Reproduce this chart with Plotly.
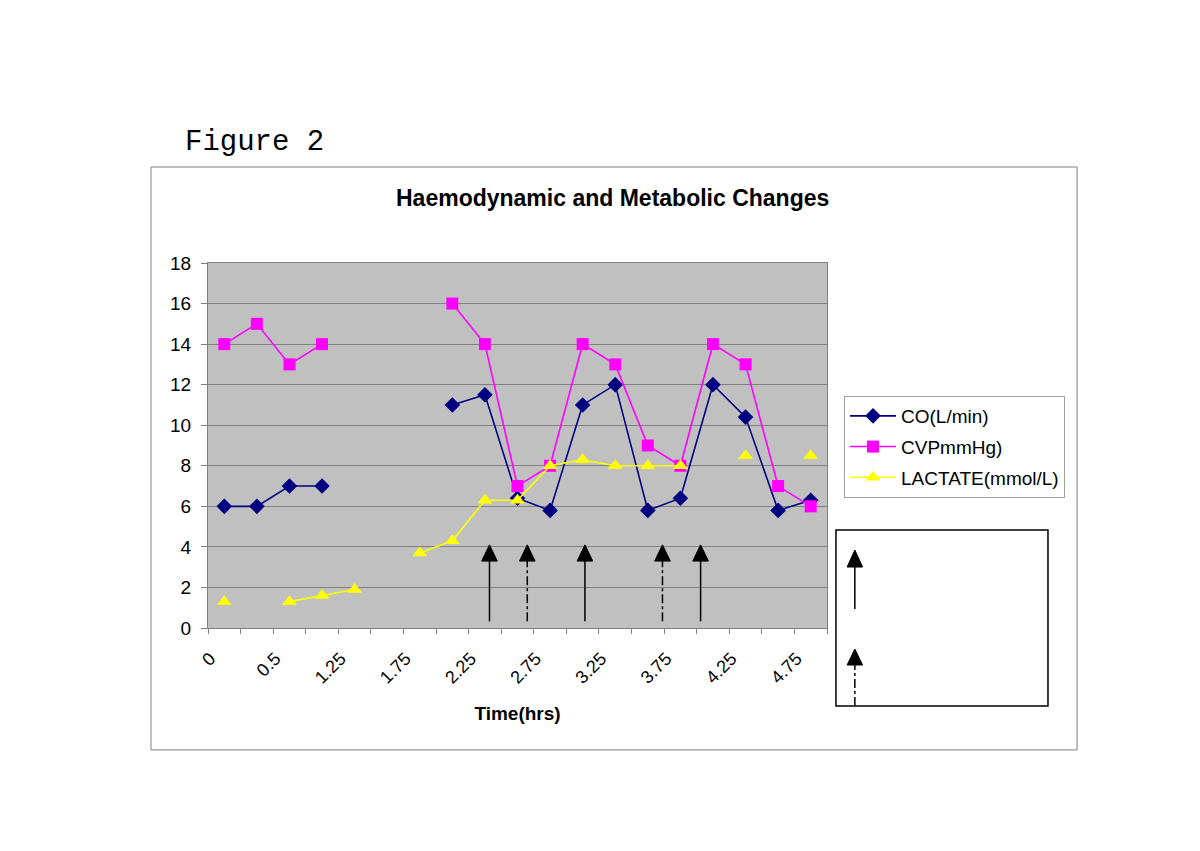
import plotly.graph_objects as go

# ---- data ----
time_labels = ["0", "0.25", "0.5", "1", "1.25", "1.5", "1.75", "2", "2.25", "2.5",
               "2.75", "3", "3.25", "3.5", "3.75", "4", "4.25", "4.5", "4.75"]
co_vals = [6, 6, 7, 7, None, None, None, 11, 11.5, 6.4, 5.8, 11, 12, 5.8, 6.4, 12, 10.4, 5.8, 6.3]
cvp_vals = [14, 15, 13, 14, None, None, None, 16, 14, 7, 8, 14, 13, 9, 8, 14, 13, 7, 6]
lactate_vals = [1.3, None, 1.3, 1.6, 1.9, None, 3.7, 4.3, 6.3, 6.3, 8, 8.3, 8, 8, 8, None, 8.5, None, 8.5]
series_names = ["CO(L/min)", "CVPmmHg)", "LACTATE(mmol/L)"]
chart_title = "Haemodynamic and Metabolic Changes"
x_title = "Time(hrs)"

# intervention arrows (category-index position, style)
arrow_pos = [8.14, 9.3, 11.07, 13.45, 14.62]
arrow_style = ["solid", "dashdot", "solid", "dashdot", "solid"]

x_idx = list(range(len(time_labels)))
FONT = "Liberation Sans, Arial, sans-serif"

fig = go.Figure()
fig.add_trace(go.Scatter(x=x_idx, y=co_vals, name=series_names[0], mode="lines+markers",
                         line=dict(color="#000080", width=1.6),
                         marker=dict(symbol="diamond", size=12, color="#000080"),
                         legendgroup="a"))
fig.add_trace(go.Scatter(x=x_idx, y=cvp_vals, name=series_names[1], mode="lines+markers",
                         line=dict(color="#FF00FF", width=1.6),
                         marker=dict(symbol="square", size=12, color="#FF00FF"),
                         legendgroup="b"))
fig.add_trace(go.Scatter(x=x_idx, y=lactate_vals, name=series_names[2], mode="lines+markers",
                         line=dict(color="#FFFF00", width=1.6),
                         marker=dict(symbol="triangle-up", size=13, color="#FFFF00"),
                         legendgroup="c"))

shapes = []
# outer chart frame
shapes.append(dict(type="rect", xref="paper", yref="paper", x0=-0.0921, x1=1.404, y0=-0.334, y1=1.263,
                   line=dict(color="#808080", width=1), layer="below"))
# arrows in plot
hw = 0.24
for xp, st in zip(arrow_pos, arrow_style):
    shapes.append(dict(type="line", xref="x", yref="y", x0=xp, x1=xp, y0=0.33, y1=3.35,
                       line=dict(color="black", width=1.5, dash=st)))
    shapes.append(dict(type="path", xref="x", yref="y",
                       path=f"M {xp-hw} 3.3 L {xp+hw} 3.3 L {xp} 4.1 Z",
                       fillcolor="black", line=dict(color="black", width=1)))
# key box
shapes.append(dict(type="rect", xref="paper", yref="paper", x0=1.0145, x1=1.357, y0=-0.2137, y1=0.2685,
                   fillcolor="white", line=dict(color="black", width=1.5)))
kx = 1.045
khw = 0.0125
shapes.append(dict(type="line", xref="paper", yref="paper", x0=kx, x1=kx, y0=0.052, y1=0.17,
                   line=dict(color="black", width=1.5)))
shapes.append(dict(type="path", xref="paper", yref="paper",
                   path=f"M {kx-khw} 0.167 L {kx+khw} 0.167 L {kx} 0.2137 Z",
                   fillcolor="black", line=dict(color="black", width=1)))
shapes.append(dict(type="line", xref="paper", yref="paper", x0=kx, x1=kx, y0=-0.2137, y1=-0.098,
                   line=dict(color="black", width=1.5, dash="dashdot")))
shapes.append(dict(type="path", xref="paper", yref="paper",
                   path=f"M {kx-khw} -0.1014 L {kx+khw} -0.1014 L {kx} -0.0575 Z",
                   fillcolor="black", line=dict(color="black", width=1)))

fig.update_layout(
    width=1200, height=851,
    margin=dict(l=200, r=381, t=255, b=231),
    paper_bgcolor="white",
    plot_bgcolor="#C0C0C0",
    font=dict(family=FONT, color="black"),
    shapes=shapes,
    showlegend=True,
    legend=dict(x=1.0275, y=0.6356, xanchor="left", yanchor="top",
                bgcolor="white", bordercolor="#A0A0A0", borderwidth=1,
                font=dict(size=19, family=FONT), tracegroupgap=3,
                itemwidth=46),
    annotations=[
        dict(text="Figure 2", xref="paper", yref="paper", x=-0.0404, y=1.329,
             xanchor="left", yanchor="middle", showarrow=False,
             font=dict(family="Liberation Mono, Courier New, monospace", size=29, color="black")),
        dict(text=f"<b>{chart_title}</b>", xref="paper", yref="paper", x=0.654, y=1.178,
             xanchor="center", yanchor="middle", showarrow=False,
             font=dict(size=23, family=FONT, color="black")),
    ],
)

fig.update_xaxes(
    range=[-0.5, len(time_labels) - 0.5],
    tickmode="array", tickvals=x_idx[::2], ticktext=time_labels[::2],
    tickangle=-45, ticks="", tickfont=dict(size=18, family=FONT),
    ticklabelstandoff=12, ticklabelshift=-14,
    showgrid=False, zeroline=False,
    showline=True, linecolor="#808080", linewidth=1, mirror=True,
    minor=dict(tickmode="array", tickvals=[i - 0.5 for i in range(len(time_labels) + 1)],
               ticks="outside", ticklen=5, tickcolor="#808080", showgrid=False),
    title=dict(text=f"<b>{x_title}</b>", font=dict(size=19, family=FONT), standoff=20),
)
fig.update_yaxes(
    range=[0, 18], dtick=2, tick0=0,
    ticks="outside", ticklen=6, tickcolor="#808080",
    tickfont=dict(size=19, family=FONT), ticklabelstandoff=6,
    showgrid=True, gridcolor="#808080", gridwidth=1, zeroline=False,
    showline=True, linecolor="#808080", linewidth=1, mirror=True,
)

fig.write_html("out.html")
